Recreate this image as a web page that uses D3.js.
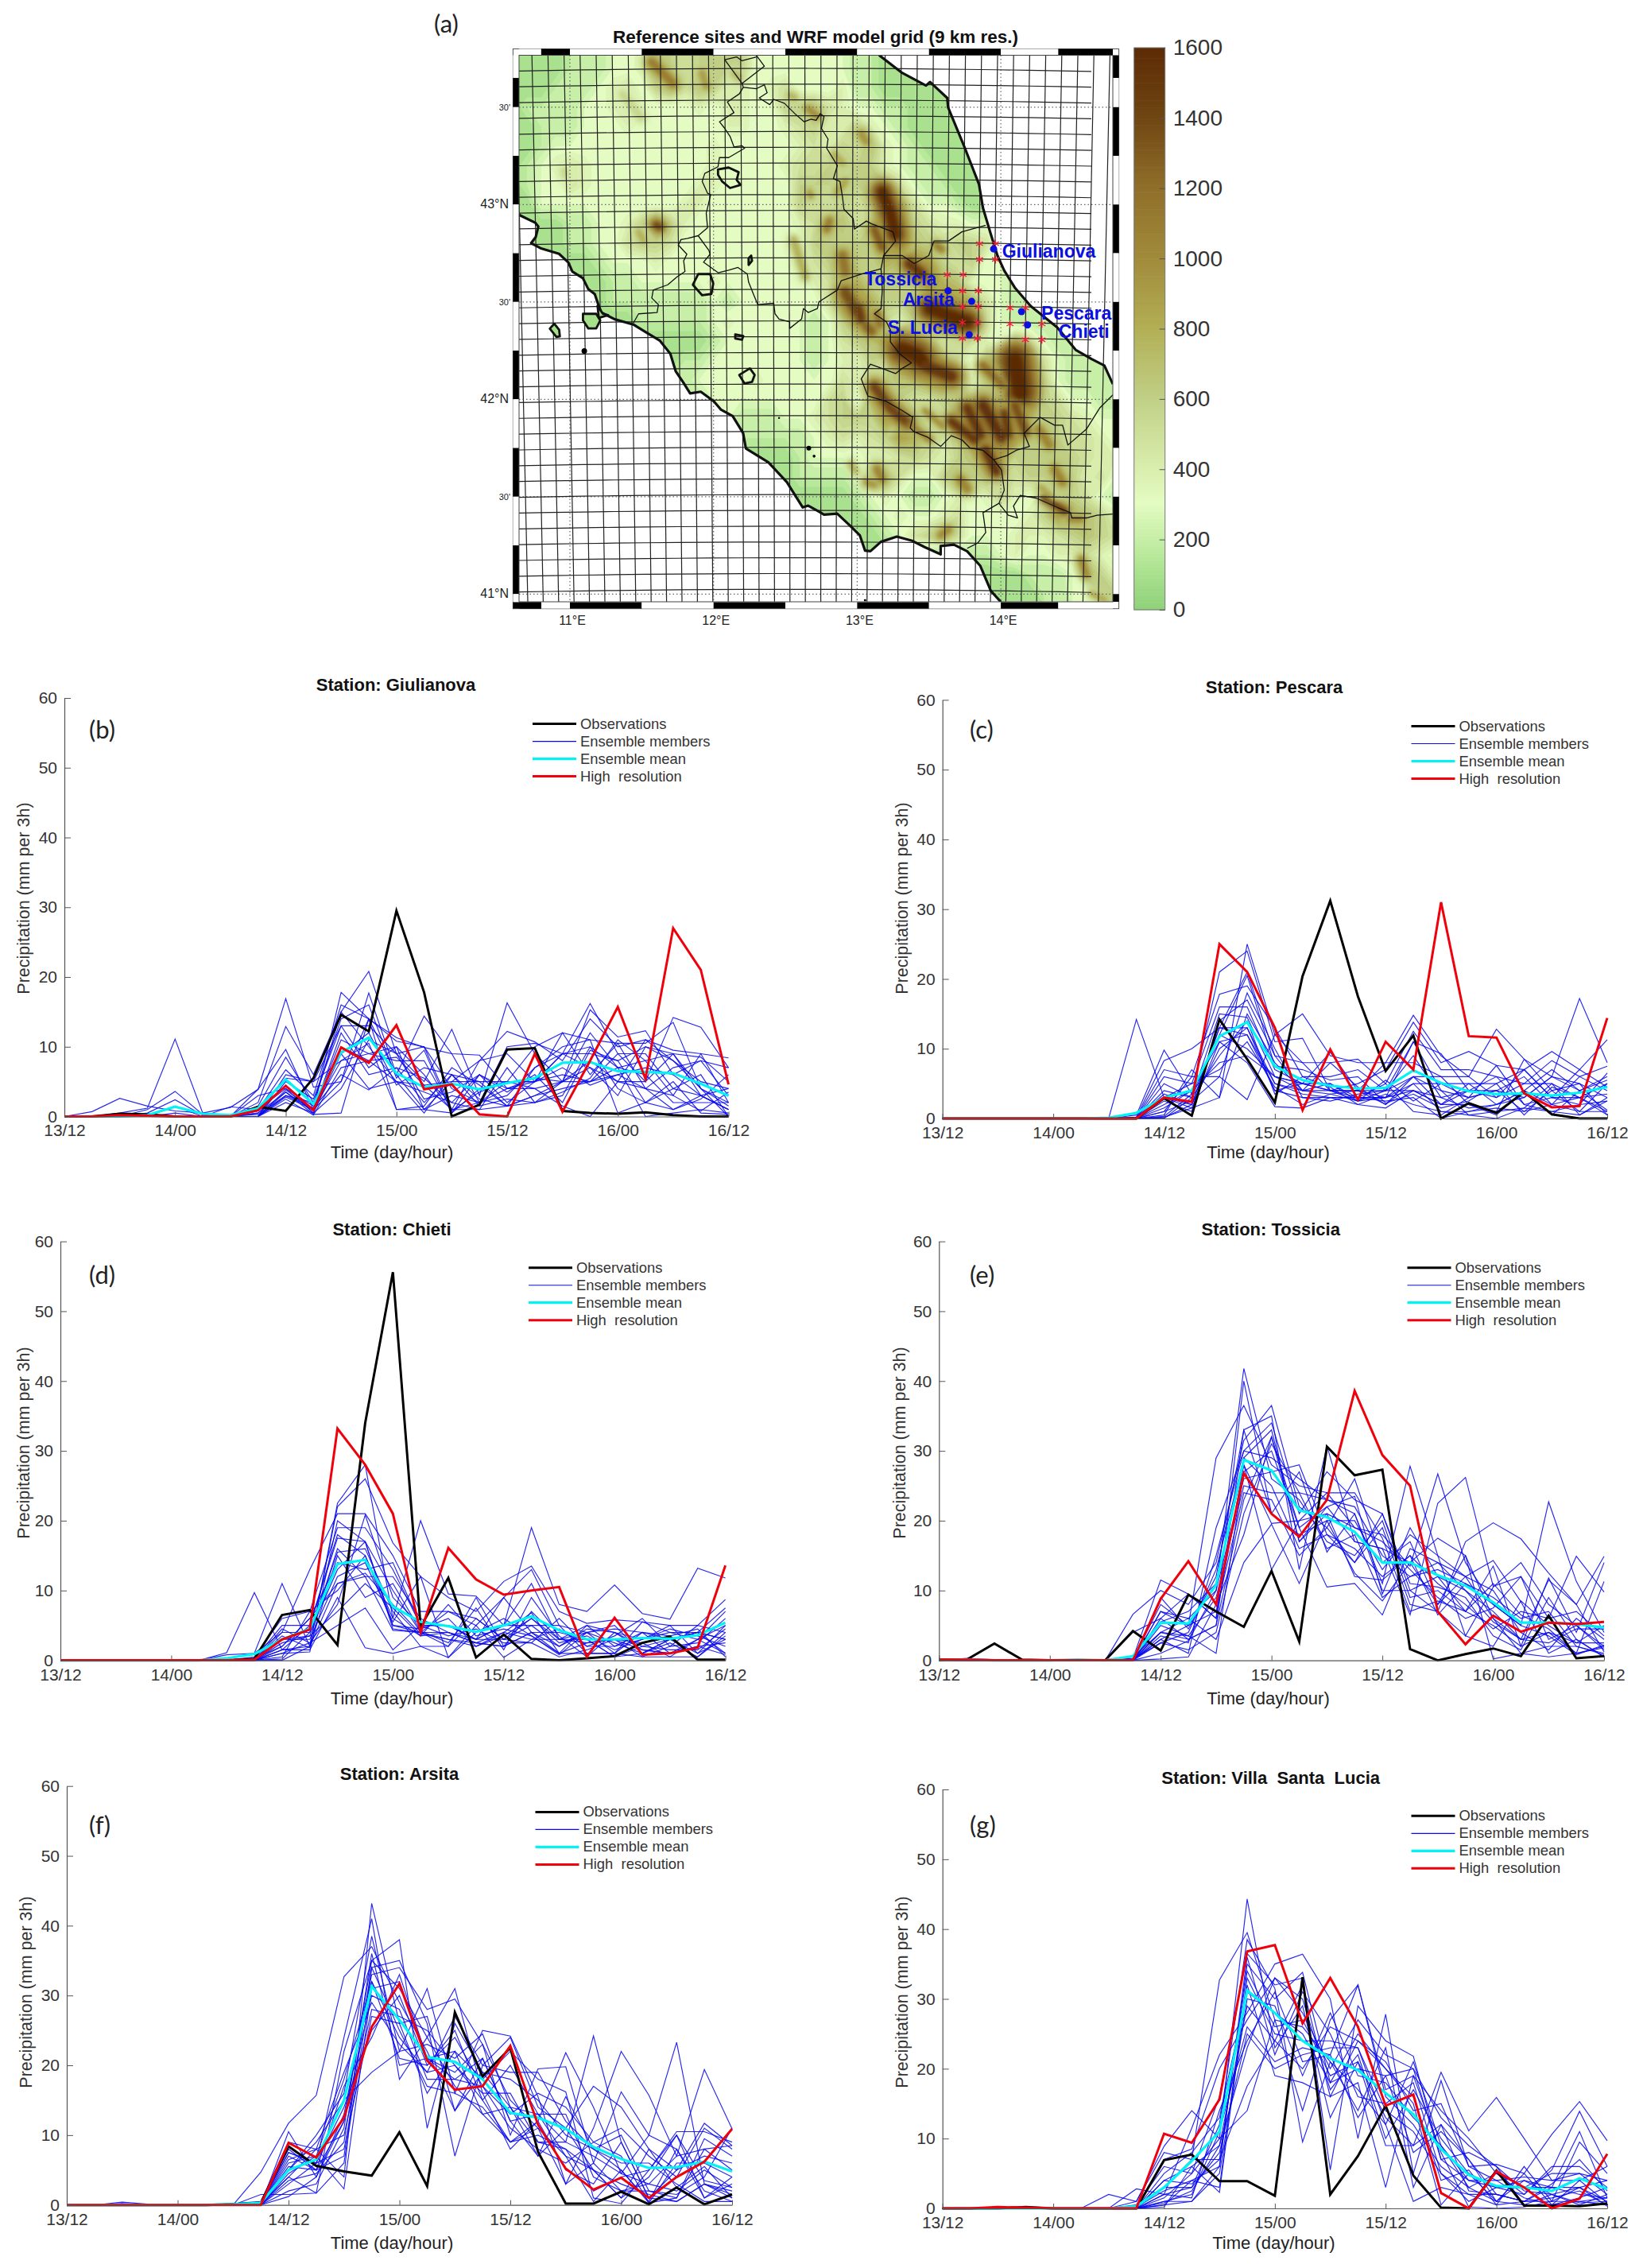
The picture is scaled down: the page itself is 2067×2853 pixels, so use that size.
<!DOCTYPE html>
<html>
<head>
<meta charset="utf-8">
<script src="https://d3js.org/d3.v7.min.js"></script>
<style>
  body { margin: 0; background: #fff; }
  svg text { font-family: "Liberation Sans", Arial, sans-serif; white-space: pre; }
  svg text.tag { font-family: Lato, "Liberation Sans", sans-serif; }
</style>
</head>
<body>
<svg id="chart" width="2067" height="2853"></svg>
<script>
// time axis, one step is 3 h
var steps = d3.range(25);
var timeTicks = [0, 4, 8, 12, 16, 20, 24];
var timeLabels = ["13/12", "14/00", "14/12", "15/00", "15/12", "16/00", "16/12"];
var precipTicks = [0, 10, 20, 30, 40, 50, 60];
var legendLabels = ["Observations", "Ensemble members", "Ensemble mean", "High  resolution"];

// Giulianova
var giulianovaObs = [0,0,0.4,0.3,0,0,0,1.4,0.8,5.5,14.6,12.2,29.5,17.8,0,1.7,9.6,9.8,0.8,0.5,0.4,0.6,0.2,0,0];
var giulianovaMean = [0,0,0,0.2,1.4,0.4,0.2,1.2,5.3,1.8,9.2,11.3,6.2,4.2,4.7,3.9,4.8,5.5,7.7,7.8,6.5,6.4,6.2,4.7,3];
var giulianovaHigh = [0,0,0.2,0.1,0,0,0,0.9,4.4,0.9,9.9,7.7,13.1,3.9,4.6,0.3,0,9,0.7,8,15.7,5.4,27,21,4.6];
var giulianovaMembers = [
  [0,0.7,2.6,1.5,0.8,0.5,1.3,3.9,16.9,4.2,5,17.7,6,14.4,9,8.8,4,5,9,16.2,9,5,14.2,12.8,7],
  [0,0,0.5,1.2,11.1,0.5,0,2,12.9,6,15,20.8,9,5,12.5,3,16.3,9,5,15.3,11.4,12.3,6,3,1],
  [0,0,0,1,3.6,0.3,0,3.9,9.6,1,17.8,14,10.8,10,1,8,12.2,10.7,8,14,10,11,9.5,9,8.4],
  [0,0,0,0.5,2.4,0.2,0,1.5,8.5,2,14,16,5.5,9.5,0.5,6,2,5,12,11,10.5,10.5,13.5,4,2],
  [0,0,0,0,1.5,0,0,1,6.7,3,16,14,11.3,9.9,9,2,5,5,9,10,7,8,9,8.5,5],
  [0,0,0,0,0.5,0,0,1,5.5,5,13,13,9,10,4,2,10,10.5,9,9,8,10,9,3,4],
  [0,0,0,0,0,0,0,0.5,4.5,1,11,9,8,8,1,1,1.5,7,10,11,0.5,2,1,3,1],
  [0,0,0,0,0,0,0,3,4,0.5,10,8,5,4.5,5,8,9,5,6,5,6,7,6,8,7],
  [0,0,0,0,0,0,0,0,3.5,0.3,0.5,14,6,1,5,5,1.5,2,5,5,7,0,0.5,1,0.5],
  [0,0,0,0,0,0,0,0.3,3,2,9,4,5,0.5,6,5,5,4,1.5,0,5,5,9,4,0],
  [0,0,0,0,0,0,0,0,2.8,1,5,14,1,1,3,2,4,4,5,12,7,6,2,2,2],
  [0,0,0,0,0,0,0,0,2.5,0.2,7,8,8.5,4.5,1,2,3,7,9,7,5,4,7,8,3],
  [0,0,0,0,0,0,0,0.5,3.5,0.8,12,6,7,2,6,2.5,1.5,3,4,5,9,9,4,3,1],
  [0,0,0,0,0,0,1.4,1,4,1.5,15,10,5,3.5,2,6,4,5.5,5,8,5,11,8,5,4],
  [0,0,0,0,0,0,0,0,6,5,8,9,10,1,0.5,4,5,5,7,4.5,6,4,3,9,2],
  [0,0,0,0,0,0,0,0,2,0.5,9,12,4.5,7,6,1.5,2.5,2,3,10,4,2,5,0.5,0.3],
  [0,0,0,0,0,0,0,0,5,2.5,13,7,10,6,0.8,3.5,5,10,12,6,10.5,4,1,2.5,6],
  [0,0,0,0,0,0,0,0,3.8,1,8,10.5,1,1.5,7,4.5,1.5,3,5,7,3,10,8,4,1.5],
  [0,0,0,0,0,0,0,0.8,4.5,0.5,4,11,9,2.5,3.5,6,3.5,6,2,9.5,8,2,4,6,0],
  [0,0,0,0,0,0,0,0,3,1.2,6,3.8,7,5.5,2,1,7,2,3.5,5.5,11,8,3,0.8,3.5]
];

// Pescara
var pescaraObs = [0,0,0,0,0,0,0,0,2.9,0.4,14.2,8.5,2.3,20.4,31.2,17.5,6.8,11.9,0,2.2,0.8,3.8,0.6,0,0];
var pescaraMean = [0,0,0,0,0,0,0.1,0.8,3,4,11.8,13.8,7.5,5.5,4.7,4.3,4.4,6.9,5.1,3.9,3.5,3.6,3.3,3.7,4.5];
var pescaraHigh = [0,0,0,0,0,0,0,0,3,2.4,25,21,13,1.2,9.9,2.7,11,7,31,11.8,11.6,3.6,1.6,1.8,14.4];
var pescaraMembers = [
  [0,0,0,0,0,0,0,14.2,3,1.5,3,25,12,15,9,8,8,14.8,9,6,12.8,8.5,6,17.2,8],
  [0,0,0,0,0,0,0,0.5,9.8,3.5,21,24,11,11.5,4,5,7,13.8,8,9.6,7.6,7,9.6,7,11.3],
  [0,0,0,0,0,0,0,0.2,8.3,10,13,21,9,8,8,8.5,5,12.5,7,7,6,5,8.3,6,7.5],
  [0,0,0,0,0,0,0,0.1,7,6,17.8,19,13,6,6,7,4,11,9.3,4,4,3,6,4,6],
  [0,0,0,0,0,0,0,0,6,5,16,16,7,5,9.5,4,8,8,6,2,1,8.5,4,1,5],
  [0,0,0,0,0,0,0,0,5,3,15,14.5,6,4,5,3,3,6,4,0.5,0,1.5,1,0.5,3],
  [0,0,0,0,0,0,0,0,3.5,2,13,13,5,3.5,3,2,1.5,4,2,5,5,7,3,3,1],
  [0,0,0,0,0,0,0,0,3,2,13,12,4,5,4,4,3,5,1,1,2,3,6,5,0.5],
  [0,0,0,0,0,0,0,0,2,4,11,8,1.7,1.5,3,3,5,1,0.5,3,4,1,2,6,4],
  [0,0,0,0,0,0,0,0,1,6,6,2.7,12,8,4,2.5,4,6,6,6,3,5,5,3,0.5],
  [0,0,0,0,0,0,0,0,0.5,7,3,15,8,4,4,3,3,4,3,4,6,2,3,2,2.5],
  [0,0,0,0,0,0,0,0,0.2,1.5,11,12,5,4,3.5,4,2,5,5,5,2,4,0.5,4,5.5],
  [0,0,0,0,0,0,0,0,4,3,12,10,6,5,5,2.5,3,11,4,3,4,6,2,1,1],
  [0,0,0,0,0,0,0,0,0.1,2,10,13,4,3,3,3,2.5,3,0,1,1.5,1,4,5,3],
  [0,0,0,0,0,0,0,0,1.5,4,8,9,6,5,4,4,4,4,2,2,0.5,4,2,3,5],
  [0,0,0,0,0,0,0,0,0,3,9,14,3.5,6,4.5,2,3.5,2,1,0.5,1,1.5,5,0.5,2.5],
  [0,0,0,0,0,0,0,0,2.5,1,14,17,9,4,8,4.5,2,6,2,4,3,7,3,7,4.5],
  [0,0,0,0,0,0,0,0,3,5,7,11,4.5,2,3.5,2.5,5.5,2.5,5,3,7.6,2,1,2,6.5],
  [0,0,0,0,0,0,0,0,1,2.5,6,18,10,3,2.5,3.5,4,9,3,1.5,2,4,7,4,1.2],
  [0,0,0,0,0,0,0,0,0.3,3.5,12,20.5,7.5,7,5.5,6,2.2,3.5,1.5,2.5,5,0.5,4.5,3,3.5]
];

// Chieti
var chietiObs = [0,0,0,0,0,0,0,0.2,6.5,7.2,2.2,34,55.6,4.8,11.8,0.4,3.7,0.2,0,0.3,0.6,2.5,3.4,0.1,0.1];
var chietiMean = [0,0,0,0,0,0,0.3,0.9,3,4.5,13.8,14.4,7.7,5.5,4.9,4.1,5,6.3,4.3,3,3,3.2,3.1,3.6,5.4];
var chietiHigh = [0,0,0,0,0,0,0,0.1,3,4.4,33.2,28,21,4,16.1,11.6,9.4,10,10.5,0.5,6.1,0.8,1,1.8,13.6];
var chietiMembers = [
  [0,0,0,0,0,0,1.1,9.7,1.5,2,22.5,28,6,20,9.5,9.2,5,19,8,7,10.8,6.7,5.9,13.2,11.8],
  [0,0,0,0,0,0,0.8,1,11,2,22,26,16.8,12,9,7,11.3,13.5,7,5.3,5.8,5.5,5,5,8.7],
  [0,0,0,0,0,0,0.2,1,4,13,21,21,15,7,7,5,9,13,5,4,4.5,4,3,4,7.5],
  [0,0,0,0,0,0,0,0.5,6,7,19,19,13,5,5,3,5,11,3,2.5,3,1.5,1,3,5],
  [0,0,0,0,0,0,0,0.2,5,5,17.5,17,10,4,4,2.5,4,6.8,1,1,1,0.5,0.5,0.5,4],
  [0,0,0,0,0,0,0,0,4,4,15.5,16,7,2,2,9,2,4,4,3,0.5,2,3,4,3],
  [0,0,0,0,0,0,0,0,3,3,12,14,5.5,12,0.4,5,0.4,3,3,5,4,3,4,3,1],
  [0,0,0,0,0,0,0,0,2,6,11,12,4.3,4,7,6,3,5,5,1,1,4,1,2,0.8],
  [0,0,0,0,0,0,0,0,1,2.5,5,7.5,1.5,5,5,3,9,4,2,4,5,1,3,1,3],
  [0,0,0,0,0,0,0,0,1.5,1.5,9,1.8,1,2,0.4,4,6,3.5,1,2.5,3,0.5,2,5,4],
  [0,0,0,0,0,0,0,0,0.5,7,10,15,6,3.5,4,2.5,2,7,3,4,1,5.5,4,4,1],
  [0,0,0,0,0,0,0,0,0.2,4,13,17,5,4,3,2,4,3,4.5,2,2,3,5,1,5],
  [0,0,0,0,0,0,0,0,3,3.5,16,12,12,6,4,3,5,5,2,4.5,4,1.5,1,2,2.5],
  [0,0,0,0,0,0,0,0.3,2,6,14,13,14,5,5,3,3,6,3,3,0.5,1,2.5,0.5,3.5],
  [0,0,0,0,0,0,0,0,1,1.2,20,17,4.5,4,2,6,3,2.5,0.5,1.5,3,2.5,0.5,3,7],
  [0,0,0,0,0,0,0,0,0,2,11,12.5,8,3.8,3,2.5,2,4,1,5,2,4,3.5,4.5,0.5],
  [0,0,0,0,0,0,0,0,1.5,5,18,15,5,4.5,6,2,3.5,6,2.5,3.5,1.5,3,4.5,3.5,2],
  [0,0,0,0,0,0,0,0,4.5,2.5,8,20.8,9,5,3.5,4.5,2.5,2.5,6,2,3.5,6,2,2.5,6],
  [0,0,0,0,0,0,0,0,2.5,3.5,7,11,7.5,3.5,8,3.5,4.5,3.5,0.8,4,2.5,1,3,4,3],
  [0,0,0,0,0,0,0,0.1,3.5,1.8,15,9,11,4.2,2.5,7.5,1.5,9,3.5,0.5,4,2,1.5,1.5,4.5]
];

// Tossicia
var tossiciaObs = [0.1,0.1,2.4,0.1,0,0,0,4.2,1.4,9.4,7,4.8,12.8,2.7,30.6,26.5,27.3,1.6,0,0.9,1.7,0.6,6.4,0.3,0.6];
var tossiciaMean = [0,0.1,0,0,0,0.1,0,0.6,5.4,5.3,10.8,28.7,27.2,21.5,20.5,18.4,14,14,12.2,10.7,8.3,5.4,5.4,5.2,4.7];
var tossiciaHigh = [0.1,0.1,0,0,0,0,0,0,8.8,14.2,8,26.8,21,17.7,23,38.6,29.4,25,7,2.3,6.4,4.1,5.4,5.2,5.5];
var tossiciaMembers = [
  [0,0.3,0.1,0,0,0,0,0.5,4,6,10,41.8,26,23,17,15,20,9,10,7,5,2,4,1,2],
  [0,0,0,0,0,0,0,6.6,10,8,14,31.5,36.5,22,19,26,14,17,8,12,14.3,8.4,1,3,0.5],
  [0,0,0,0,0,0,0,0.3,11.5,9.5,6,40,21,27,15.5,21,11,27.8,15,3.5,10.5,14,8,5,1.5],
  [0,0,0,0,0,0,0,0.2,8,5,29,36.5,28,25,24,19,18,13.5,26.7,14,8,5,22.7,11.3,4],
  [0,0,0,0,0,0,0,4,6,3,5,33,35,13,30.7,17,16,6.5,22.5,26.2,10.6,12,6,14.9,9.8],
  [0,0,0,0,0,0,0,0.1,3,1,19,30,34,21,27,23,21,10,7,17,19.7,17.4,12.5,8,14.9],
  [0,0,0,0,0,0,0,0,0.2,0.5,8,18,32,17,22,23.5,9.5,19,12,7,13.5,2,11.8,4,14],
  [0,0,0,0,0,0,0,0.1,7,6,3,14,19.5,11,20,12.5,8.5,14,17.5,15,0.2,1,0.5,1,11.3],
  [0,0,0,0,0,0,0,0,5,3.5,1,27,30,19,10.5,11,6.5,16,14,12,6,3,4,2.5,5],
  [0,0,0,0,0,0,0,0,2.5,4,13,29,25,16,18,16,12,15,11,8,4.5,7,6,7,3.5],
  [0,0,0,0,0,0,0,0,5.5,7,11,28,13,20,21,19,17,13,9,6,7.5,12,3,5,2],
  [0,0,0,0,0,0,0,0,4,3.5,9,25,24,24,23,22,15,12,13,11,9,6,7,2,1],
  [0,0,0,0,0,0,0,0,7,5,7,24,23,15,19,14,19,8,7,3.5,2,8.5,5,2.5,2.5],
  [0,0,0,0,0,0,0,0,3.5,2.5,15,30,29,26,23,21,10,10,12,10,7,3,11.5,8,1.2],
  [0,0,0,0,0,0,0,0.1,4,3,5,23,32,19,22,17,16,14,8,15,6,1,2,2,0.8],
  [0,0,0,0,0,0,0,0,9,4.5,12,33,21,18,20,20,13,18,15,12,10,4,1.5,6,3],
  [0,0,0,0,0,0,0,0,1,2.8,10,26,27,28,18,14,21,11,10.5,9,3.5,1.5,9,3,0.5],
  [0,0,0,0,0,0,0,0,6,9.5,6,28,19.6,20,24,24,17.5,7,8.5,7,11,6.5,4.5,1,1.8],
  [0,0,0,0,0,0,0,0.2,2.5,1.5,4,21,31,24,16,18,9,12,14,10,5.5,3,2.5,4.5,4.5],
  [0,0,0,0,0,0,0,0,3,5,11,29,33,17,21,12,11.5,15,6.5,11,8,5,3.5,0.8,2.2]
];

// Arsita
var arsitaObs = [0,0,0,0,0,0,0.1,0.3,8.4,5.6,4.8,4.2,10.4,2.7,27.6,18.4,22.5,7.6,0.2,0.2,1.9,0.1,2.5,0.1,1.5];
var arsitaMean = [0,0,0,0,0,0,0.1,0.3,5,6.5,15,31.3,26.5,21.2,20.5,18,13.2,12.5,10.9,8.3,6.6,5.3,5.4,6.2,4.8];
var arsitaHigh = [0,0,0,0,0,0,0,0,8.9,6.8,12.5,25.5,31.7,20.7,16.5,17,22.8,11.5,5.2,2.2,3.9,1,4,6.2,10.9];
var arsitaMembers = [
  [0,0,0.4,0.1,0,0,0.2,0.5,9,8,4,43.2,26,16,22,13,9,11,7,5,1,4,10,1,3],
  [0,0,0.2,0,0,0,0,4.7,11.7,15.7,32.7,37,29,22,13.5,21,12,7,15.5,8,5,0.3,1,8,5],
  [0,0,0,0,0,0,0,0.3,7.5,6,24,41,18,24,31,16,8,12,21.8,14,4.5,3,2,5,2.5],
  [0,0,0,0,0,0,0,1.5,1.5,1.7,22,35,38,11,26,19,14,9,9,24.2,9,1,0.5,3,2],
  [0,0,0,0,0,0,0,0.1,5,10,16,38.5,22,31,16,25,24.2,15.5,3,11,22,15.7,7,19.4,10.9],
  [0,0,0,0,0,0,0,0,10.5,4,13,33,34,28,29.5,23,10,19.5,19.8,6,16.2,10,23.3,3,1],
  [0,0,0,0,0,0,0,0,7,5,7,34,35,26,7,20,24,14,11,17,14,8,5,11.7,8.5],
  [0,0,0,0,0,0,0,0,6,7,2.3,31,32,21,22,18,22,18,16.2,1,0.2,5,10.5,10.5,9],
  [0,0,0,0,0,0,0,0.2,4,8,19,29,23,19,20,15,20,13,13,4,2,2,1,9.5,7],
  [0,0,0,0,0,0,0,0,3,6,14,25,30,20,24,17,13,16,14,9,7,0.3,6,6,4],
  [0,0,0,0,0,0,0,0,5,9,15,19,22,23,21,24.5,14,13,9,7,4.5,10,8,2,0.5],
  [0,0,0,0,0,0,0,0.1,8,5,12,30,28,18,18,17,11,8,6,9,11,7,4,11,8],
  [0,0,0,0,0,0,0,0,4.5,7,18,32,24,19,27,20,19,19,12,8,6,6,3,0.5,0.5],
  [0,0,0,0,0,0,0,0,3.5,4.5,9,34,25,17,16,14,9,12,5,3,9,1,5,7,6],
  [0,0,0,0,0,0,0,0,6.5,8,10,28,27,25,20,16,16,9,8,5,3,1.5,0.5,3,1.5],
  [0,0,0,0,0,0,0,0,2,3,11,36,20,21,18,21,12,13,7,0.5,5,0.5,8,1,4],
  [0,0,0,0,0,0,0,0,7.5,6,8,27,26,27,13.5,19,18,15,10,8,10,2,1.5,4,11],
  [0,0,0,0,0,0,0,0,5.5,5,17,24,33,21,19,23,15,11,3,6,2,3,7,8,8.5],
  [0,0,0,0,0,0,0,0,4,1.7,6,32,21,20,25,15,9,10,8,2,4,5,10,3.5,2.5],
  [0,0,0,0,0,0,0,0,1.2,4,12,35,31,24,17,13,14,7,11,5,1,8,2.5,5.5,1]
];

// Villa Santa Lucia
var luciaObs = [0,0,0,0.2,0,0,0,0,6.9,7.7,3.9,3.9,1.8,33.1,2,7.5,14.7,4.7,0.1,0,5.4,0.4,0.4,0.3,0.7];
var luciaMean = [0,0,0,0,0,0,0,0.3,3,6.8,11,31.2,28,24,21.5,19.8,16.5,13.5,8.5,4.8,3.2,3,2.5,4.3,2.8];
var luciaHigh = [0,0,0.2,0.1,0,0,0,0,10.7,9.4,15.6,36.8,37.7,26.5,33,26,14.7,16.3,2.2,0,5.3,3,0,1.4,7.8];
var luciaMembers = [
  [0,0,0,0,0,0,2,1,8.9,14,10,44.3,23,29,13,21,9,9,19.5,11.1,15.9,10,4,5,4],
  [0,0,0,0,0,0,0,2.8,2,11.5,22,28,35,36.4,30,10,27.8,5,18.3,6,6.3,5,10.6,15.3,9.7],
  [0,0,0,0,0,0,0,1,8,7,32.7,39.5,27,14,27,32,17,19,14,10,5,2,5.5,13.9,6],
  [0,0,0,0,0,0,0,0.5,6,5,16,36.5,32,33,5.5,29,24,21.8,7,4,3,4,3,11,1.5],
  [0,0,0,0,0,0,0,0.3,3,3,12,38.5,31.5,9.5,21,14,23,3,12,7,2,1,1,9.5,5],
  [0,0,0,0,0,0,0,0,1,1,6,35,30,33.8,18,25,20,15,0.5,5,1,0.5,0.5,4,0.8],
  [0,0,0,0,0,0,0,0,0.5,4,3,33,25,24,24,23,12,1,3,2,0.5,1,3,2,1.5],
  [0,0,0,0,0,0,0,0,0.2,6,2.3,32,19,18,16,18,3,19,8,0.2,0,0.2,1,1,0.5],
  [0,0,0,0,0,0,0,0,2,3,8,25,20,22,23,23,14,11,5,1,3,3,5,5,2],
  [0,0,0,0,0,0,0,0,4,6,9,23,33,28,20,27,22,20,13,9,6,2.5,2,3,4],
  [0,0,0,0,0,0,0,0,3,7,7,17.5,24,20,26,24,21,14,15,6,4,4.5,4,4,6],
  [0,0,0,0,0,0,0,0,1.5,5,10,14,27,26,21,17,12,21,9,3,5,3,3,3,1],
  [0,0,0,0,0,0,0,0,5,8,13,31,28,25,18,20,19,8,11,7,1,5,0.5,1.5,3],
  [0,0,0,0,0,0,0,0.2,2.5,4,6,36,22,31,25,16,15,18,5,2,2,1,1.5,2.5,0.5],
  [0,0,0,0,0,0,0,0,1,2,11,26,21,23,22,32,16,12,6,3,1,4,2,0.5,2],
  [0,0,0,0,0,0,0,0,0.5,1,5,30,29,19,28,19,18,13,9,4,4,1.5,0.5,1,1.5],
  [0,0,0,0,0,0,0,0,7,8.5,20,27,33,30,17,22,10,17,10,5,3,2,6,6,3],
  [0,0,0,0,0,0,0,0,2,1.5,14,24,31,21,22,13,19,20,7,8,6,0.5,2,0.8,1],
  [0,0,0,0,0,0,0,0,4,3.5,7,34,26,27,19,21,13,9,12,2.5,2,1,3.5,7,2.5],
  [0,0,0,0,0,0,0,0,0.8,2.5,9,29,24,32,16,24,20,16,4,5.5,0.5,6,1,3,0.3]
];

var panels = [
  {tag:"(b)", name:"Station: Giulianova", obs:giulianovaObs, mean:giulianovaMean, high:giulianovaHigh, members:giulianovaMembers,
   x0:81, x1:916.5, y60:878, y0:1404.5, titleX:498, titleY:862, xlabX:493, xlabY:1450, ylabX:30, ylabY:1130, tagX:112, tagY:929, legX:670, legY:910.6},
  {tag:"(c)", name:"Station: Pescara", obs:pescaraObs, mean:pescaraMean, high:pescaraHigh, members:pescaraMembers,
   x0:1185.7, x1:2022, y60:880.4, y0:1407, titleX:1603, titleY:865, xlabX:1595.5, xlabY:1450, ylabX:1135, ylabY:1130, tagX:1220, tagY:929, legX:1775.5, legY:913.5},
  {tag:"(d)", name:"Station: Chieti", obs:chietiObs, mean:chietiMean, high:chietiHigh, members:chietiMembers,
   x0:76, x1:912.6, y60:1561.6, y0:2088.6, titleX:493, titleY:1547, xlabX:493, xlabY:2137, ylabX:30, ylabY:1815, tagX:112, tagY:1615, legX:665, legY:1594.7},
  {tag:"(e)", name:"Station: Tossicia", obs:tossiciaObs, mean:tossiciaMean, high:tossiciaHigh, members:tossiciaMembers,
   x0:1181.3, x1:2018, y60:1561.6, y0:2088.6, titleX:1598.7, titleY:1547, xlabX:1595.5, xlabY:2137, ylabX:1131.6, ylabY:1815, tagX:1220, tagY:1615, legX:1770.5, legY:1594.7},
  {tag:"(f)", name:"Station: Arsita", obs:arsitaObs, mean:arsitaMean, high:arsitaHigh, members:arsitaMembers,
   x0:84, x1:921, y60:2246.7, y0:2773.7, titleX:502.5, titleY:2231.6, xlabX:493, xlabY:2822, ylabX:33, ylabY:2506, tagX:112, tagY:2307, legX:673.5, legY:2279.4},
  {tag:"(g)", name:"Station: Villa  Santa  Lucia", obs:luciaObs, mean:luciaMean, high:luciaHigh, members:luciaMembers,
   x0:1185.7, x1:2022, y60:2251, y0:2778, titleX:1598.7, titleY:2236.5, xlabX:1602.4, xlabY:2822, ylabX:1135.4, ylabY:2506, tagX:1220, tagY:2307, legX:1775.5, legY:2284.3}
];

// map data, all lon/lat
var westCoast = [[10.646,42.95],[10.651,42.945],[10.758,42.907],[10.78,42.887],[10.762,42.833],[10.73,42.802],[10.795,42.776],[10.924,42.747],[10.989,42.703],[11.017,42.656],[11.09,42.622],[11.127,42.567],[11.173,42.54],[11.201,42.479],[11.22,42.445],[11.312,42.411],[11.441,42.384],[11.533,42.343],[11.625,42.302],[11.699,42.234],[11.736,42.145],[11.791,42.084],[11.837,42.03],[11.911,42.039],[12.003,41.989],[12.05,41.948],[12.133,41.914],[12.206,41.826],[12.225,41.748],[12.382,41.676],[12.511,41.574],[12.621,41.445],[12.659,41.454],[12.732,41.424],[12.769,41.408],[12.861,41.413],[12.954,41.349],[13.018,41.302],[13.055,41.223],[13.092,41.22],[13.165,41.268],[13.276,41.295],[13.378,41.275],[13.47,41.241],[13.581,41.204],[13.581,41.247],[13.673,41.254],[13.765,41.22],[13.857,41.145],[13.931,41.016],[14.001,40.959]];
var eastCoast = [[14.78,42.078],[14.721,42.173],[14.632,42.207],[14.521,42.254],[14.392,42.37],[14.208,42.479],[14.097,42.574],[14.023,42.662],[13.977,42.737],[13.931,42.846],[13.876,42.982],[13.848,43.104],[13.747,43.295],[13.633,43.499],[13.627,43.547],[13.507,43.629],[13.479,43.611],[13.313,43.676],[13.153,43.767]];
var mapCorners = [[14.78,40.959],[14.78,42.078]];
var topCorners = [[10.646,43.767]];

var borders = [
  [[12.078,43.744],[12.198,43.622],[12.207,43.602],[12.179,43.568],[12.096,43.527],[12.142,43.472],[12.041,43.425],[12.078,43.391],[12.115,43.35],[12.142,43.296],[12.198,43.302],[12.216,43.289],[12.105,43.241],[12.041,43.241],[12.031,43.194],[11.939,43.16],[11.921,43.119],[11.958,43.058],[11.98,43.051],[11.949,42.956],[11.958,42.881],[11.893,42.84],[11.819,42.826],[11.773,42.82],[11.755,42.792],[11.814,42.745],[11.792,42.711],[11.801,42.656],[11.746,42.629],[11.681,42.588],[11.58,42.561],[11.57,42.52],[11.616,42.486],[11.607,42.446],[11.478,42.439],[11.441,42.391]],
  [[11.893,42.84],[11.967,42.765],[11.976,42.745],[11.93,42.704],[12.032,42.65],[12.105,42.663],[12.17,42.677],[12.235,42.643],[12.244,42.602],[12.281,42.534],[12.308,42.486],[12.419,42.493],[12.428,42.439],[12.456,42.412],[12.53,42.398],[12.53,42.364],[12.613,42.412],[12.626,42.466],[12.659,42.446],[12.723,42.466],[12.733,42.5],[12.862,42.561],[12.889,42.609],[13.028,42.643],[13.166,42.67],[13.184,42.738],[13.314,42.738],[13.397,42.697],[13.498,42.738],[13.535,42.813],[13.636,42.813],[13.729,42.86],[13.895,42.894]],
  [[13.184,42.738],[13.231,42.779],[13.267,42.813],[13.249,42.86],[13.101,42.901],[13.064,42.915],[12.981,42.874],[12.972,42.928],[12.908,42.976],[12.898,43.037],[12.88,43.119],[12.834,43.132],[12.862,43.2],[12.788,43.289],[12.797,43.336],[12.751,43.391],[12.769,43.452],[12.742,43.466],[12.714,43.432],[12.677,43.438],[12.631,43.425],[12.567,43.466],[12.493,43.52],[12.419,43.54],[12.391,43.513],[12.318,43.547],[12.373,43.574],[12.354,43.615],[12.299,43.595],[12.207,43.602]],
  [[12.198,43.622],[12.318,43.69],[12.354,43.71],[12.299,43.765]],
  [[12.078,43.744],[12.161,43.758],[12.198,43.738],[12.299,43.758]],
  [[13.166,42.67],[13.175,42.561],[13.166,42.466],[13.12,42.439],[13.203,42.398],[13.231,42.357],[13.231,42.295],[13.295,42.234],[13.378,42.187],[13.314,42.159],[13.267,42.132],[13.194,42.153],[13.092,42.18],[13.028,42.105],[13.074,42.017],[13.203,41.989],[13.314,41.942],[13.387,41.908],[13.369,41.853],[13.397,41.833],[13.489,41.806],[13.581,41.758],[13.655,41.813],[13.729,41.792],[13.784,41.751],[13.876,41.738],[13.95,41.69],[14.005,41.636],[14.024,41.534],[13.987,41.466],[13.876,41.418],[13.895,41.316],[13.839,41.262],[13.766,41.235]],
  [[13.95,41.69],[14.042,41.711],[14.107,41.738],[14.199,41.758],[14.162,41.826],[14.273,41.908],[14.374,41.867],[14.43,41.867],[14.467,41.765],[14.596,41.847],[14.688,41.955],[14.78,42.023]],
  [[13.987,41.466],[14.052,41.405],[14.116,41.391],[14.088,41.452],[14.135,41.507],[14.245,41.493],[14.393,41.445],[14.485,41.418],[14.494,41.391],[14.596,41.391],[14.67,41.405],[14.78,41.411]]
];

var lakes = [
  [[12.031,43.18],[12.105,43.19],[12.175,43.166],[12.161,43.126],[12.188,43.101],[12.115,43.085],[12.059,43.119],[12.031,43.153]],
  [[11.893,42.643],[11.976,42.643],[11.998,42.595],[11.985,42.541],[11.921,42.534],[11.856,42.588]],
  [[12.151,42.333],[12.207,42.325],[12.198,42.306],[12.151,42.312]],
  [[12.179,42.125],[12.253,42.159],[12.286,42.125],[12.268,42.089],[12.216,42.081]]
];
var islands = [
  [[11.091,42.439],[11.183,42.439],[11.211,42.405],[11.183,42.364],[11.128,42.364],[11.091,42.405]],
  [[11.192,42.48],[11.229,42.439],[11.266,42.432],[11.201,42.418]],
  [[10.86,42.363],[10.891,42.388],[10.925,42.357],[10.93,42.323],[10.906,42.32]],
  [[12.244,42.724],[12.262,42.738],[12.268,42.711],[12.244,42.69]]
];
var specks = [[11.1,42.248,3.5],[12.456,41.904,1.2],[12.663,41.749,3],[12.7,41.708,1.8],[13.055,40.969,1.5]];

var gridPoints = [[13.852,42.799],[13.963,42.799],[13.852,42.718],[13.963,42.718],[13.627,42.64],[13.738,42.64],[13.633,42.557],[13.734,42.557],[13.843,42.557],[13.732,42.476],[13.843,42.476],[14.064,42.469],[14.171,42.469],[14.064,42.387],[14.175,42.387],[14.286,42.387],[13.732,42.394],[13.836,42.394],[13.732,42.313],[13.836,42.313],[14.171,42.306],[14.286,42.306]];
var stationNames = ["Giulianova", "Tossicia", "Arsita", "Pescara", "Chieti", "S. Lucia"];
var stationLon = [13.95, 13.633, 13.797, 14.144, 14.186, 13.78];
var stationLat = [42.772, 42.557, 42.503, 42.45, 42.382, 42.332];
var stationLabelLon = [14.009, 13.053, 13.317, 14.282, 14.402, 13.212];
var stationLabelLat = [42.751, 42.608, 42.503, 42.435, 42.34, 42.36];

// broad terrain in hundreds of metres, one char per 0.1 deg (0-9, a), north to south, from 10.6E
var terrainRows = [
  "1111222334 7656666333 3333221111 1111111111 111",
  "1111222334 7656666333 3333221111 1111111111 111",
  "1112223453 6757644345 3334221111 1111111111 111",
  "1222233454 3334344336 6754332211 1111111111 111",
  "1122233343 3333344334 5644643211 1111111111 111",
  "1123333333 3333433333 4546574321 1111111111 111",
  "1234543333 3333433334 5567664322 1111111111 111",
  "1233543333 3334433333 6666666532 2111111111 111",
  "1133333333 3344333333 6556569853 3211111111 111",
  "1111223346 9643333333 456756a965 4433211111 111",
  "1111223356 6533333333 3666669a76 5665321111 111",
  "1111112333 4333333333 3568668799 6563321111 111",
  "1111111223 3333433333 345786666a 8743322111 111",
  "1111111222 2222323333 3359886668 a985322211 111",
  "1111111112 2222343333 3236865467 aa75322222 111",
  "1111111111 1111233333 3235679976 5554365322 221",
  "1111111111 1122333333 32344659aa 6537698532 221",
  "1111111111 1223333433 3335456779 96468a9632 222",
  "1111111111 1122333333 3356379655 6666698653 322",
  "1111111111 1112332223 3456669665 5699978665 433",
  "1111111111 1111222222 2345456986 569aa96665 543",
  "1111111111 1111111111 2333344565 4679966666 544",
  "1111111111 1111111111 2222367533 6767556666 453",
  "1111111111 1111111111 1111234322 3434643466 532",
  "1111111111 1111111111 1111123433 4533334698 764",
  "1111111111 1111111111 1111112356 6533344456 765",
  "1111111111 1111111111 1111111111 1222343344 543",
  "1111111111 1111111111 1111111111 1111112223 764",
  "1111111111 1111111111 1111111111 1111111223 366"
];

// narrow mountain crests: height in m, width in km on the ground, crest line lon/lat
var ridges = [
  [1100,7,[[11.57,43.731],[11.718,43.622]]],
  [900,6,[[11.921,43.676],[11.949,43.608]]],
  [750,5,[[12.142,43.676],[12.179,43.649]]],
  [800,4,[[12.53,43.561],[12.567,43.548]]],
  [1000,5,[[12.659,43.493],[12.723,43.452]]],
  [950,4,[[12.668,43.064],[12.677,43.044]]],
  [1400,6,[[11.6,42.895],[11.625,42.885]]],
  [800,5,[[11.478,42.86],[11.515,42.813]]],
  [800,5,[[12.557,42.82],[12.64,42.629]]],
  [550,7,[[10.961,43.173],[10.97,43.15]]],
  [550,7,[[11.367,43.568],[11.497,43.445]]],
  [950,6,[[13.028,43.364],[13.064,43.323]]],
  [800,6,[[12.843,43.255],[12.898,43.214]]],
  [850,6,[[12.861,43.064],[12.917,43.119]]],
  [1650,10,[[13.175,43.064],[13.231,42.956],[13.267,42.847]]],
  [1300,6,[[13.12,42.874],[13.175,42.779]]],
  [1100,6,[[12.806,42.915],[12.788,42.874]]],
  [1150,8,[[12.898,42.738],[12.917,42.656]]],
  [1350,9,[[12.917,42.548],[12.991,42.452]]],
  [1450,8,[[13.009,42.466],[13.028,42.412]]],
  [1150,6,[[13.138,42.439],[13.157,42.384]]],
  [1250,7,[[13.1,42.35],[13.06,42.376]]],
  [1500,8,[[13.36,42.697],[13.452,42.643]]],
  [1100,5,[[13.55,42.79],[13.59,42.77]]],
  [1700,11,[[13.507,42.466],[13.64,42.43],[13.766,42.398]]],
  [1650,14,[[13.314,42.255],[13.415,42.227],[13.46,42.19]]],
  [1500,11,[[13.48,42.17],[13.655,42.119]]],
  [1700,15,[[14.098,42.2],[14.135,42.037]]],
  [1200,6,[[13.876,42.173],[14.015,42.071]]],
  [1400,8,[[13.12,42.064],[13.23,41.955],[13.36,41.874]]],
  [1100,4,[[13.36,41.874],[13.507,41.792]]],
  [1550,9,[[13.876,41.969],[14.005,41.806]]],
  [1500,8,[[13.766,41.955],[13.858,41.819]]],
  [1500,7,[[13.655,41.887],[13.82,41.792]]],
  [1550,7,[[13.895,41.738],[13.968,41.629]]],
  [1350,7,[[14.098,41.969],[14.171,41.833]]],
  [1000,4,[[13.47,41.942],[13.6,41.86]]],
  [1450,7,[[14.024,41.928],[14.051,41.819]]],
  [1450,5,[[14.301,41.493],[14.448,41.425]]],
  [1050,5,[[14.485,41.384],[14.559,41.384]]],
  [850,5,[[14.282,41.547],[14.356,41.493]]],
  [1050,7,[[14.374,41.643],[14.43,41.575]]],
  [1050,7,[[14.264,41.847],[14.338,41.765]]],
  [1050,7,[[13.719,41.588],[13.765,41.541]]],
  [950,5,[[13.064,41.575],[13.12,41.561]]],
  [1050,6,[[13.138,41.643],[13.175,41.588]]],
  [800,4,[[12.954,41.67],[12.99,41.629]]],
  [1000,6,[[13.581,41.303],[13.636,41.33]]],
  [1050,5,[[14.559,41.18],[14.596,41.099]]],
  [850,4,[[14.633,41.003],[14.725,40.97]]]
];

var elevStops = [0, 150, 300, 450, 600, 800, 1000, 1200, 1400, 1600];
var elevColors = ["#8fd27a", "#b8e89a", "#e4fcc2", "#d3e6a3", "#c0cf85", "#b2ae54", "#a08a3a", "#8f6e2a", "#6f4512", "#5c2a05"];
var elevTicks = [0, 200, 400, 600, 800, 1000, 1200, 1400, 1600];

var svg = d3.select("#chart");
var line = d3.line();

// ---------- map ----------
var lonScale = d3.scaleLinear().domain([11, 14]).range([717, 1259.1]);
var latScale = d3.scaleLinear().domain([43, 41]).range([257.3, 747.3]);
var project = function(p) { return [lonScale(p[0]), latScale(p[1])]; };
var left = 653, right = 1400, top_ = 69.5, bottom = 757;

var elev = d3.scaleLinear().domain(elevStops).range(elevColors).clamp(true);
var defs = svg.append("defs");
defs.append("clipPath").attr("id", "land")
  .append("path").attr("d", line(westCoast.concat(mapCorners, eastCoast, topCorners).map(project)) + "Z");
defs.append("clipPath").attr("id", "frame")
  .append("rect").attr("x", left).attr("y", top_).attr("width", right - left).attr("height", bottom - top_);
[["blurS", 2.4], ["blurM", 3.5], ["blurL", 6]].forEach(function(f) {
  defs.append("filter").attr("id", f[0]).attr("x", "-50%").attr("y", "-50%").attr("width", "200%").attr("height", "200%")
    .append("feGaussianBlur").attr("stdDeviation", f[1]);
});

var map = svg.append("g").attr("clip-path", "url(#frame)");
map.append("rect").attr("x", left).attr("y", top_).attr("width", right - left).attr("height", bottom - top_).attr("fill", "#fff");

// terrain comes out of the char grid via d3.contours
var rows = terrainRows.map(function(r) { return r.replace(/ /g, ""); });
var nx = rows[0].length, ny = rows.length;
var terrain = [];
rows.forEach(function(row) {
  for (var i = 0; i < nx; i++) terrain.push(parseInt(row[i], 17) * 100);
});
var contours = d3.contours().size([nx, ny]).thresholds(d3.range(50, 1101, 50));
var gridToMap = d3.geoTransform({ point: function(x, y) {
  this.stream.point(lonScale(10.6 + 0.1 * (x - 0.5)), latScale(43.8 - 0.1 * (y - 0.5)));
}});
var terrainPath = d3.geoPath(gridToMap);
var landG = map.append("g").attr("clip-path", "url(#land)");
landG.append("rect").attr("x", left).attr("y", top_).attr("width", right - left).attr("height", bottom - top_).attr("fill", elev(0));
landG.selectAll("path.base").data(contours(terrain)).enter().append("path").attr("class", "base")
  .attr("d", terrainPath).attr("fill", function(d) { return elev(d.value); });

// crests on top: wide flank, mid slope, then the core
[["blurL", 0.62, 3.6], ["blurM", 0.8, 2.3], ["blurS", 1, 1.25]].forEach(function(layer) {
  var g = landG.append("g").attr("filter", "url(#" + layer[0] + ")")
    .attr("fill", "none").attr("stroke-linecap", "round").attr("stroke-linejoin", "round");
  g.selectAll("path").data(ridges).enter().append("path")
    .attr("d", function(d) { return line(d[2].map(project)); })
    .attr("stroke", function(d) { return elev(d[0] * layer[1]); })
    .attr("stroke-width", function(d) { return d[1] * layer[2]; });
});

// dotted graticule
var dotted = map.append("g").attr("fill", "none").attr("stroke", "#666").attr("stroke-width", 1.2).attr("stroke-dasharray", "1.5,3");
d3.range(11, 15).forEach(function(lon) {
  dotted.append("path").attr("d", line([[lonScale(lon), top_], [lonScale(lon), bottom]]));
});
d3.range(41, 44, 0.5).forEach(function(lat) {
  dotted.append("path").attr("d", line([[left, latScale(lat)], [right, latScale(lat)]]));
});

// WRF grid, columns lean in a little towards the south, rows arc
var gridG = map.append("g").attr("fill", "none").attr("stroke", "#222").attr("stroke-width", 1.2);
var colTop = d3.scaleLinear().domain([0, 1]).range([1053, 1073.2]);
var colBot = d3.scaleLinear().domain([0, 1]).range([1052, 1071.4]);
d3.range(-20, 18).forEach(function(k) {
  gridG.append("path").attr("d", line([[colTop(k), top_], [colBot(k), bottom]]));
});
var rowY = d3.scaleLinear().domain([0, 1]).range([89.3, 109.16]);
d3.range(0, 34).forEach(function(j) {
  var pts = d3.range(left, right + 1, 40).map(function(x) {
    return [x, rowY(j) + 2.8e-5 * ((x - 1000) * (x - 1000) - 345 * 345)];
  });
  gridG.append("path").attr("d", line(pts));
});

// region borders, coast, lakes
var outline = map.append("g").attr("fill", "none").attr("stroke", "#111").attr("stroke-linejoin", "round");
outline.selectAll(".border").data(borders).enter().append("path").attr("class", "border")
  .attr("d", function(d) { return line(d.map(project)); }).attr("stroke-width", 1.3);
[westCoast, eastCoast].forEach(function(c) {
  outline.append("path").attr("d", line(c.map(project))).attr("stroke-width", 3.2);
});
outline.selectAll(".lake").data(lakes).enter().append("path").attr("class", "lake")
  .attr("d", function(d) { return line(d.map(project)) + "Z"; }).attr("stroke-width", 2.8);
outline.selectAll(".island").data(islands).enter().append("path").attr("class", "island")
  .attr("d", function(d) { return line(d.map(project)) + "Z"; }).attr("stroke-width", 2.8).attr("fill", "#a7df8b");
map.selectAll(".speck").data(specks).enter().append("circle").attr("class", "speck")
  .attr("cx", function(d) { return lonScale(d[0]); }).attr("cy", function(d) { return latScale(d[1]); })
  .attr("r", function(d) { return d[2]; }).attr("fill", "#000");

// red model grid points and blue stations
var star = d3.symbol().type(d3.symbolAsterisk).size(70);
map.selectAll(".gridpt").data(gridPoints).enter().append("path").attr("class", "gridpt")
  .attr("d", star)
  .attr("transform", function(d) { return "translate(" + project(d) + ")"; })
  .attr("fill", "none").attr("stroke", "#f0203a").attr("stroke-width", 1.3);
map.selectAll(".site").data(stationNames).enter().append("circle").attr("class", "site")
  .attr("cx", function(d, i) { return lonScale(stationLon[i]); })
  .attr("cy", function(d, i) { return latScale(stationLat[i]); })
  .attr("r", 4.5).attr("fill", "#0a10e0");
map.selectAll(".sitename").data(stationNames).enter().append("text").attr("class", "sitename")
  .attr("x", function(d, i) { return lonScale(stationLabelLon[i]); })
  .attr("y", function(d, i) { return latScale(stationLabelLat[i]); })
  .attr("font-size", 23).attr("font-weight", "bold").attr("fill", "#0a10e0")
  .attr("dominant-baseline", "middle").text(function(d) { return d; });

// black and white m_map style frame
var frame = svg.append("g");
var bandX = [10.8, 11, 11.5, 12, 12.5, 13, 13.5, 14, 14.4];
var bandY = [43.65, 43.5, 43.25, 43, 42.75, 42.5, 42.25, 42, 41.75, 41.5, 41.25, 41];
frame.append("rect").attr("x", 645.4).attr("y", 61.5).attr("width", 762.2).attr("height", 704.2)
  .attr("fill", "none").attr("stroke", "#555").attr("stroke-width", 1);
var xEdges = [left].concat(bandX.map(lonScale), [right]);
var yEdges = [top_].concat(bandY.map(latScale), [bottom]);
d3.pairs(xEdges).forEach(function(p, i) {
  frame.append("rect").attr("x", p[0]).attr("width", p[1] - p[0]).attr("y", 61.5).attr("height", 8)
    .attr("fill", i % 2 ? "#000" : "#fff");
  frame.append("rect").attr("x", p[0]).attr("width", p[1] - p[0]).attr("y", 757.5).attr("height", 8)
    .attr("fill", i % 2 ? "#fff" : "#000");
});
frame.append("rect").attr("x", 645.4).attr("width", 35.6).attr("y", 757.5).attr("height", 8).attr("fill", "#000");
d3.pairs(yEdges).forEach(function(p, i) {
  frame.append("rect").attr("y", p[0]).attr("height", p[1] - p[0]).attr("x", 645.4).attr("width", 7.6)
    .attr("fill", i % 2 ? "#000" : "#fff");
  frame.append("rect").attr("y", p[0]).attr("height", p[1] - p[0]).attr("x", 1400).attr("width", 7.6)
    .attr("fill", i % 2 ? "#fff" : "#000");
});
frame.append("rect").attr("x", left).attr("y", top_).attr("width", right - left).attr("height", bottom - top_)
  .attr("fill", "none").attr("stroke", "#444").attr("stroke-width", 1);

// map tick labels
d3.range(11, 15).forEach(function(lon) {
  svg.append("text").attr("x", lonScale(lon) + 3).attr("y", 786).attr("text-anchor", "middle")
    .attr("font-size", 16).attr("fill", "#222").text(lon + "°E");
});
d3.range(41, 44).forEach(function(lat) {
  svg.append("text").attr("x", 640).attr("y", latScale(lat) + 5).attr("text-anchor", "end")
    .attr("font-size", 16).attr("fill", "#222").text(lat + "°N");
});
[41.5, 42.5, 43.5].forEach(function(lat) {
  svg.append("text").attr("x", 642).attr("y", latScale(lat) + 4).attr("text-anchor", "end")
    .attr("font-size", 11).attr("fill", "#222").text("30'");
});
svg.append("text").attr("x", 1026).attr("y", 54).attr("text-anchor", "middle")
  .attr("font-size", 22.5).attr("font-weight", "bold").attr("fill", "#111")
  .text("Reference sites and WRF model grid (9 km res.)");
svg.append("text").attr("class", "tag").attr("x", 546).attr("y", 41).attr("font-size", 31).attr("fill", "#222").text("(a)");

// colorbar
var barY = d3.scaleLinear().domain([0, 1600]).range([767, 60]);
var bar = svg.append("g");
bar.selectAll("rect").data(d3.range(0, 1600, 10)).enter().append("rect")
  .attr("x", 1426.7).attr("width", 39)
  .attr("y", function(d) { return barY(d + 10); })
  .attr("height", function(d) { return barY(d) - barY(d + 10) + 0.6; })
  .attr("fill", function(d) { return elev(d); });
bar.append("rect").attr("x", 1426.7).attr("y", 60).attr("width", 39).attr("height", 707)
  .attr("fill", "none").attr("stroke", "#777").attr("stroke-width", 1);
var barAxis = bar.append("g").attr("transform", "translate(1465.7,0)")
  .call(d3.axisRight(barY).tickValues(elevTicks).tickSize(-7).tickSizeOuter(0).tickPadding(10).tickFormat(d3.format("d")));
barAxis.select(".domain").remove();
barAxis.selectAll("line").attr("stroke", "#555");
barAxis.selectAll("text").attr("font-size", 28).attr("fill", "#333");

// ---------- station panels ----------
panels.forEach(function(p) {
  var x = d3.scaleLinear().domain([0, 24]).range([p.x0, p.x1]);
  var y = d3.scaleLinear().domain([0, 60]).range([p.y0, p.y60]);
  var g = svg.append("g");
  var series = d3.line().x(function(d, i) { return x(steps[i]); }).y(function(d) { return y(d); });

  g.selectAll(".member").data(p.members).enter().append("path").attr("class", "member")
    .attr("d", series).attr("fill", "none").attr("stroke", "#0808ee").attr("stroke-width", 1.15).attr("stroke-opacity", 0.88);
  g.append("path").attr("d", series(p.obs)).attr("fill", "none").attr("stroke", "#000").attr("stroke-width", 3);
  g.append("path").attr("d", series(p.mean)).attr("fill", "none").attr("stroke", "#00f4f4").attr("stroke-width", 3.2);
  g.append("path").attr("d", series(p.high)).attr("fill", "none").attr("stroke", "#f0000a").attr("stroke-width", 3);

  var yAxis = g.append("g").attr("transform", "translate(" + p.x0 + ",0)")
    .call(d3.axisLeft(y).tickValues(precipTicks).tickSize(-8).tickSizeOuter(0).tickPadding(9));
  var xAxis = g.append("g").attr("transform", "translate(0," + p.y0 + ")")
    .call(d3.axisBottom(x).tickValues(timeTicks).tickSize(-6).tickSizeOuter(0).tickPadding(10)
      .tickFormat(function(d, i) { return timeLabels[i]; }));
  [yAxis, xAxis].forEach(function(a) {
    a.selectAll(".domain").attr("stroke", "#555").attr("stroke-width", 1.2);
    a.selectAll("line").attr("stroke", "#555");
    a.selectAll("text").attr("font-size", 21).attr("fill", "#333");
  });

  g.append("text").attr("x", p.titleX).attr("y", p.titleY + 7).attr("text-anchor", "middle")
    .attr("font-size", 22).attr("font-weight", "bold").attr("fill", "#111").text(p.name);
  g.append("text").attr("x", p.xlabX).attr("y", p.xlabY + 7).attr("text-anchor", "middle")
    .attr("font-size", 22).attr("fill", "#222").text("Time (day/hour)");
  g.append("text").attr("transform", "translate(" + (p.ylabX + 7) + "," + p.ylabY + ") rotate(-90)")
    .attr("text-anchor", "middle").attr("font-size", 21.5).attr("fill", "#333").text("Precipitation (mm per 3h)");
  g.append("text").attr("class", "tag").attr("x", p.tagX).attr("y", p.tagY).attr("font-size", 31).attr("fill", "#222").text(p.tag);

  var legendStyle = [["#000", 3], ["#0808ee", 1.15], ["#00f4f4", 3.2], ["#f0000a", 3]];
  legendLabels.forEach(function(label, i) {
    var rowPos = p.legY + i * 22;
    g.append("path").attr("d", line([[p.legX, rowPos], [p.legX + 55, rowPos]]))
      .attr("stroke", legendStyle[i][0]).attr("stroke-width", legendStyle[i][1]);
    g.append("text").attr("x", p.legX + 60).attr("y", rowPos + 6).attr("font-size", 18.4).attr("fill", "#333").text(label);
  });
});
</script>
</body>
</html>
